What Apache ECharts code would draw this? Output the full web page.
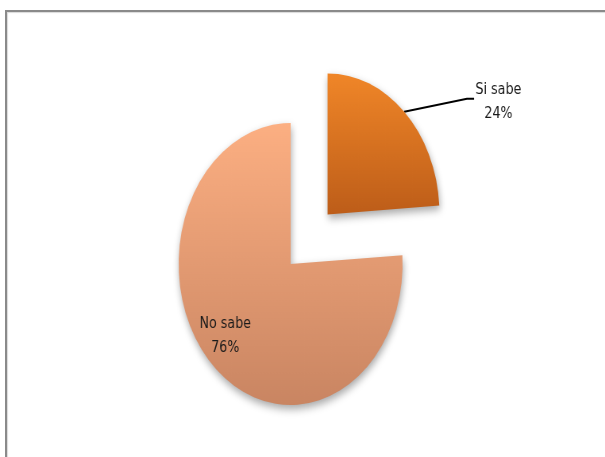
<!DOCTYPE html>
<html>
<head>
<meta charset="utf-8">
<script src="https://cdn.jsdelivr.net/npm/echarts@6/dist/echarts.min.js"></script>
<style>
  html, body { margin: 0; padding: 0; background: #fff; overflow: hidden; }
  #stage { position: relative; width: 605px; height: 457px; overflow: hidden; background: #fff; }
  #frame {
    position: absolute; left: 5px; top: 10px; width: 700px; height: 520px;
    border-top: 2px solid #8a8a8a; border-left: 2px solid #8a8a8a;
    box-shadow: 1px 1px 1px rgba(0,0,0,0.15) inset;
  }
  /* the pie is drawn slightly narrower than it is tall */
  #chart {
    position: absolute; left: 0; top: 0; width: 762px; height: 457px;
    transform: scaleX(0.794); transform-origin: 0 0;
  }
</style>
</head>
<body>
<div id="stage">
  <div id="frame"></div>
  <div id="chart"></div>
</div>
<script>
// Respuesta a la pregunta: ¿sabe o no sabe?
const categories = ['Si sabe', 'No sabe'];
const values = [24, 76];
const colorsTop = ['#f08628', '#fcaf82'];
const colorsBottom = ['#bd5d19', '#c98562'];

const chart = echarts.init(document.getElementById('chart'), null, { renderer: 'canvas' });

const data = categories.map((name, i) => ({
  name: name,
  value: values[i],
  selected: i === 0,
  label: { position: i === 0 ? 'outside' : 'inside' },
  labelLine: { show: i === 0 },
  itemStyle: {
    color: new echarts.graphic.LinearGradient(0, 0, 0, 1, [
      { offset: 0, color: colorsTop[i] },
      { offset: 1, color: colorsBottom[i] }
    ])
  }
}));

chart.setOption({
  animation: false,
  backgroundColor: 'transparent',
  series: [{
    type: 'pie',
    center: [366, 264],
    radius: 141,
    startAngle: 90,
    clockwise: true,
    selectedMode: 'single',
    selectedOffset: 68,
    emphasis: { disabled: true },
    silent: true,
    data: data,
    itemStyle: {
      borderWidth: 0,
      shadowBlur: 8,
      shadowOffsetX: 1,
      shadowOffsetY: 4,
      shadowColor: 'rgba(0,0,0,0.35)'
    },
    label: {
      formatter: '{b}\n{d}%',
      fontFamily: 'DejaVu Sans',
      fontSize: 16,
      lineHeight: 24,
      color: '#1a1a1a',
      align: 'center'
    },
    labelLine: {
      show: true,
      length: 20,
      length2: 8,
      lineStyle: { color: '#000', width: 2 }
    },
    labelLayout: function (params) {
      if (params.dataIndex === 0) {
        // leader line: a shallow segment from the arc, then a short horizontal tail
        const p0 = params.labelLinePoints[0];
        const p1 = [p0[0] + 79, p0[1] - 13];
        const p2 = [p1[0] + 9, p1[1]];
        return {
          dx: 92,
          dy: 5,
          align: 'center',
          labelLinePoints: [p0, p1, p2]
        };
      }
      return { dx: -32, dy: 18 };
    }
  }]
});
</script>
</body>
</html>
